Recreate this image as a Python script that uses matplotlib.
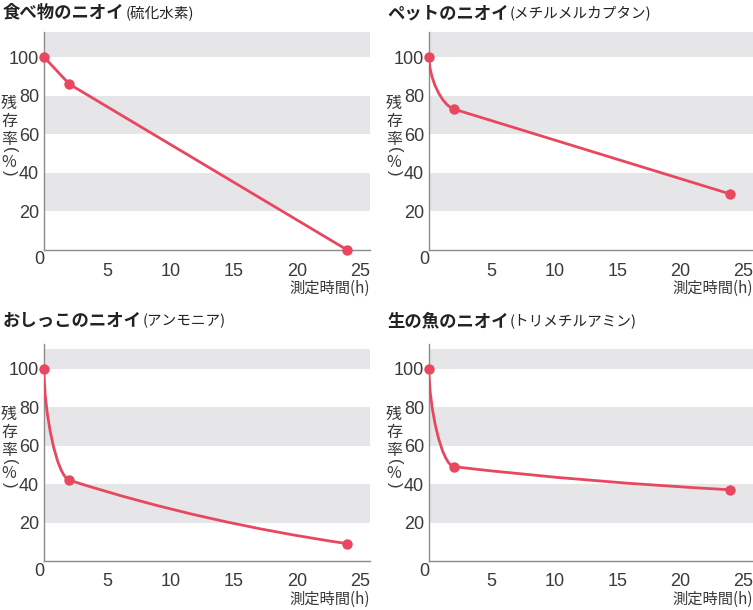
import matplotlib
matplotlib.use("Agg")
import matplotlib.pyplot as plt
from matplotlib.path import Path
from matplotlib.patches import PathPatch

hours = [0, 2, 24]
food = [100, 86, 0]      # 硫化水素
pet = [100, 73, 29]      # メチルメルカプタン
urine = [100, 42, 9]     # アンモニア
fish = [100, 49, 37]     # トリメチルアミン

titles = ["食べ物のニオイ", "ペットのニオイ", "おしっこのニオイ", "生の魚のニオイ"]
subtitles = ["(硫化水素)", "(メチルメルカプタン)", "(アンモニア)", "(トリメチルアミン)"]
series = [food, pet, urine, fish]
# which segments (0->2h, 2->24h) are drawn smooth instead of straight
smooth_segs = [(False, False), (True, False), (True, True), (True, True)]

xticks = [5, 10, 15, 20, 25]
yticks = [20, 40, 60, 80, 100]
xlabel = "測定時間(h)"
ylabel_parts = ["残", "存", "率", "(", "%", ")"]

RED = "#e8485f"
GREY = "#e6e6e8"
AXIS = "#8c8c8c"
TEXT = "#3a3a3a"
NUM_FONT = ["Liberation Sans Narrow", "Liberation Sans", "DejaVu Sans"]
JP_FONT = ["Noto Sans CJK JP", "DejaVu Sans"]

W, H = 753, 610
fig = plt.figure(figsize=(W / 100, H / 100), dpi=100)

# axes boxes in pixels: left, top, right, bottom
boxes = [(44, 32, 370, 250), (429, 32, 753, 250),
         (44, 343.5, 370, 561), (429, 343.5, 753, 561)]
title_pos = [(3, 13), (387, 13), (3, 321), (387, 321)]
band_top = [113, 113, 110, 110]


def curve_path(x, y, smooth):
    s = [(y[i + 1] - y[i]) / (x[i + 1] - x[i]) for i in range(len(x) - 1)]
    m_mid = s[1] * (1.4 if smooth[1] else 1.0)
    verts = [(x[0], y[0])]
    codes = [Path.MOVETO]
    for i in range(len(x) - 1):
        x0, y0, x1, y1 = x[i], y[i], x[i + 1], y[i + 1]
        h = x1 - x0
        if not smooth[i]:
            verts.append((x1, y1))
            codes.append(Path.LINETO)
            continue
        if i == 0:
            c1 = (x0, y0 + 0.4 * (y1 - y0))
            c2 = (x1 - 0.5 * h, y1 - m_mid * 0.5 * h)
        else:
            m_end = s[i] * 0.65
            c1 = (x0 + h / 3, y0 + m_mid * h / 3)
            c2 = (x1 - h / 3, y1 - m_end * h / 3)
        verts += [c1, c2, (x1, y1)]
        codes += [Path.CURVE4] * 3
    return Path(verts, codes)


for k in range(4):
    l, t, r, b = boxes[k]
    ax = fig.add_axes([l / W, 1 - b / H, (r - l) / W, (b - t) / H])
    ax.set_xlim(0, 25.8)
    ax.set_ylim(0, 113)

    # grey bands
    for lo in [20, 60]:
        ax.axhspan(lo, lo + 20, color=GREY, lw=0, zorder=0)
    ax.axhspan(100, band_top[k], color=GREY, lw=0, zorder=0)

    ax.add_patch(PathPatch(curve_path(hours, series[k], smooth_segs[k]), fill=False,
                           ec=RED, lw=2.0, capstyle="round", joinstyle="round", zorder=3))
    ax.plot(hours, series[k], "o", color=RED, ms=7.5, mew=0, clip_on=False, zorder=4)

    for side in ["top", "right"]:
        ax.spines[side].set_visible(False)
    for side in ["left", "bottom"]:
        ax.spines[side].set_color(AXIS)
        ax.spines[side].set_linewidth(1.0)

    ax.set_xticks(xticks)
    ax.set_xticklabels([str(v) for v in xticks], fontfamily=NUM_FONT, fontsize=13, color=TEXT)
    ax.set_yticks(yticks)
    ax.set_yticklabels([str(v) for v in yticks], fontfamily=NUM_FONT, fontsize=13, color=TEXT)
    ax.tick_params(axis="x", length=0, pad=9)
    ax.tick_params(axis="y", length=0, pad=3.5)

    ax.annotate("0", xy=(0, 0), xycoords="data", xytext=(-5, -10), textcoords="offset pixels",
                ha="center", va="center", fontfamily=NUM_FONT, fontsize=13, color=TEXT)

    ax.annotate(xlabel, xy=(1, 0), xycoords="axes fraction", xytext=(0, -38),
                textcoords="offset pixels", ha="right", va="center",
                fontfamily=JP_FONT, fontsize=11, color=TEXT)

    # vertical y label
    offs = [46, 64, 82, 93, 105, 116]
    for ch, off in zip(ylabel_parts, offs):
        if ch in "()":
            ax.annotate(ch, xy=(0, 100), xycoords=("axes fraction", "data"), xytext=(-35, -off),
                        textcoords="offset pixels", ha="center", va="center", rotation=-90,
                        fontfamily=NUM_FONT, fontsize=12, color=TEXT)
        else:
            ax.annotate(ch, xy=(0, 100), xycoords=("axes fraction", "data"), xytext=(-35, -off),
                        textcoords="offset pixels", ha="center", va="center",
                        fontfamily=JP_FONT, fontsize=11.5, color=TEXT)

    tx, ty = title_pos[k]
    main = fig.text(tx / W, 1 - ty / H, titles[k], ha="left", va="center",
                    fontfamily=JP_FONT, fontsize=12.5, fontweight="bold", color="#222222")
    ax.annotate(subtitles[k], xy=(1, 0.5), xycoords=main, xytext=(1, 0),
                textcoords="offset pixels", ha="left", va="center",
                fontfamily=JP_FONT, fontsize=10.5, color="#222222")

fig.savefig("out.png", dpi=100)
